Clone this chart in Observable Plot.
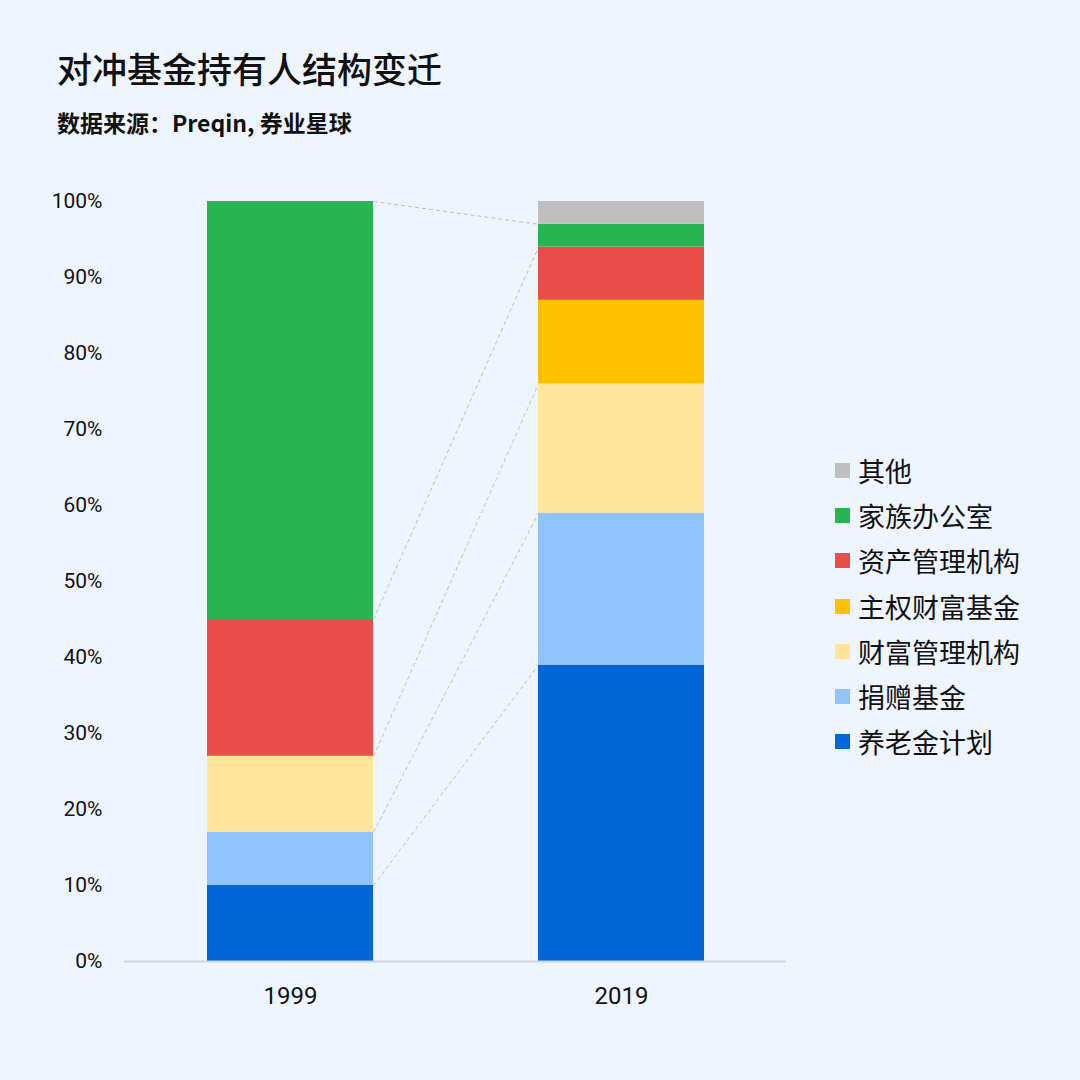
<!DOCTYPE html>
<html>
<head>
<meta charset="utf-8">
<script src="https://cdn.jsdelivr.net/npm/d3@7"></script>
<script src="https://cdn.jsdelivr.net/npm/@observablehq/plot@0.6"></script>
<style>
  html, body { margin: 0; padding: 0; background: #eff5fe; }
  body { width: 1080px; height: 1080px; position: relative; overflow: hidden;
         font-family: "Roboto", "Noto Sans CJK SC", sans-serif; }
  #title { position: absolute; left: 57px; top: 47px; font-size: 35px; font-weight: 500; color: #111;
           font-family: "Noto Sans CJK SC", sans-serif; line-height: 1.2; }
  #subtitle { position: absolute; left: 57px; top: 109px; font-size: 23px; font-weight: 700; color: #111;
              font-family: "Noto Sans CJK SC", sans-serif; line-height: 1.2; }
  #chart { position: absolute; left: 0; top: 0; }
  #legend { position: absolute; left: 835px; top: 448px; font-family: "Noto Sans CJK SC", sans-serif; }
  .item { display: flex; align-items: center; height: 45.2px; font-size: 27px; color: #111; }
  .sw { width: 15px; height: 15px; margin-right: 8px; flex: none; }
</style>
</head>
<body>
<div id="title">对冲基金持有人结构变迁</div>
<div id="subtitle">数据来源：Preqin, 券业星球</div>
<div id="chart"></div>
<div id="legend"></div>
<script>
const years = ["1999", "2019"];
const seriesNames = ["养老金计划", "捐赠基金", "财富管理机构", "主权财富基金", "资产管理机构", "家族办公室", "其他"];
const values1999 = [10, 7, 10, 0, 18, 55, 0];
const values2019 = [39, 20, 17, 11, 7, 3, 3];
const colors = ["#0166d8", "#91c4fe", "#ffe599", "#ffc000", "#e84d48", "#29b452", "#bfbfbf"];
const yTicks = [0, 10, 20, 30, 40, 50, 60, 70, 80, 90, 100];
// series whose tops are linked between the two bars
const linkedSeries = ["养老金计划", "捐赠基金", "财富管理机构", "资产管理机构", "家族办公室"];

const data = [];
seriesNames.forEach((s, i) => {
  data.push({year: years[0], series: s, value: values1999[i]});
  data.push({year: years[1], series: s, value: values2019[i]});
});

function cumTop(vals, name) {
  const k = seriesNames.indexOf(name);
  return d3.sum(vals.slice(0, k + 1));
}
const links = linkedSeries.map(s => ({
  a: years[0], b: years[1], y1: cumTop(values1999, s), y2: cumTop(values2019, s)
}));

const chart = Plot.plot({
  width: 1080,
  height: 1080,
  marginTop: 201,
  marginBottom: 119,
  marginLeft: 124,
  marginRight: 294,
  style: {background: "transparent", fontFamily: "Roboto, 'Noto Sans CJK SC', sans-serif", fontSize: "21px", color: "#111"},
  x: {domain: years, paddingInner: 0.5, paddingOuter: 0.25, label: null},
  y: {domain: [0, 100], label: null},
  color: {domain: seriesNames, range: colors},
  marks: [
    Plot.axisY({ticks: yTicks, tickSize: 0, tickPadding: 22, tickFormat: d => d + "%", fontSize: 21}),
    Plot.axisX({tickSize: 0, tickPadding: 25, fontSize: 24}),
    Plot.link(links, {
      x1: "a", x2: "b", y1: "y1", y2: "y2",
      stroke: "#b9bdc9", strokeWidth: 1, strokeDasharray: "4,3",
      render(index, scales, values, dimensions, context, next) {
        const bw = scales.x.bandwidth();
        values.x1 = Array.from(values.x1, v => v + bw / 2);
        values.x2 = Array.from(values.x2, v => v - bw / 2);
        return next(index, scales, values, dimensions, context);
      }
    }),
    Plot.barY(data, {x: "year", y: "value", fill: "series", order: seriesNames, inset: 0}),
    Plot.ruleY([0], {stroke: "#d3d3d6", strokeWidth: 2})
  ]
});
document.getElementById("chart").appendChild(chart);

const legend = document.getElementById("legend");
[...seriesNames].reverse().forEach(s => {
  const i = seriesNames.indexOf(s);
  const row = document.createElement("div");
  row.className = "item";
  const sw = document.createElement("span");
  sw.className = "sw";
  sw.style.background = colors[i];
  const t = document.createElement("span");
  t.textContent = s;
  row.appendChild(sw);
  row.appendChild(t);
  legend.appendChild(row);
});
</script>
</body>
</html>
